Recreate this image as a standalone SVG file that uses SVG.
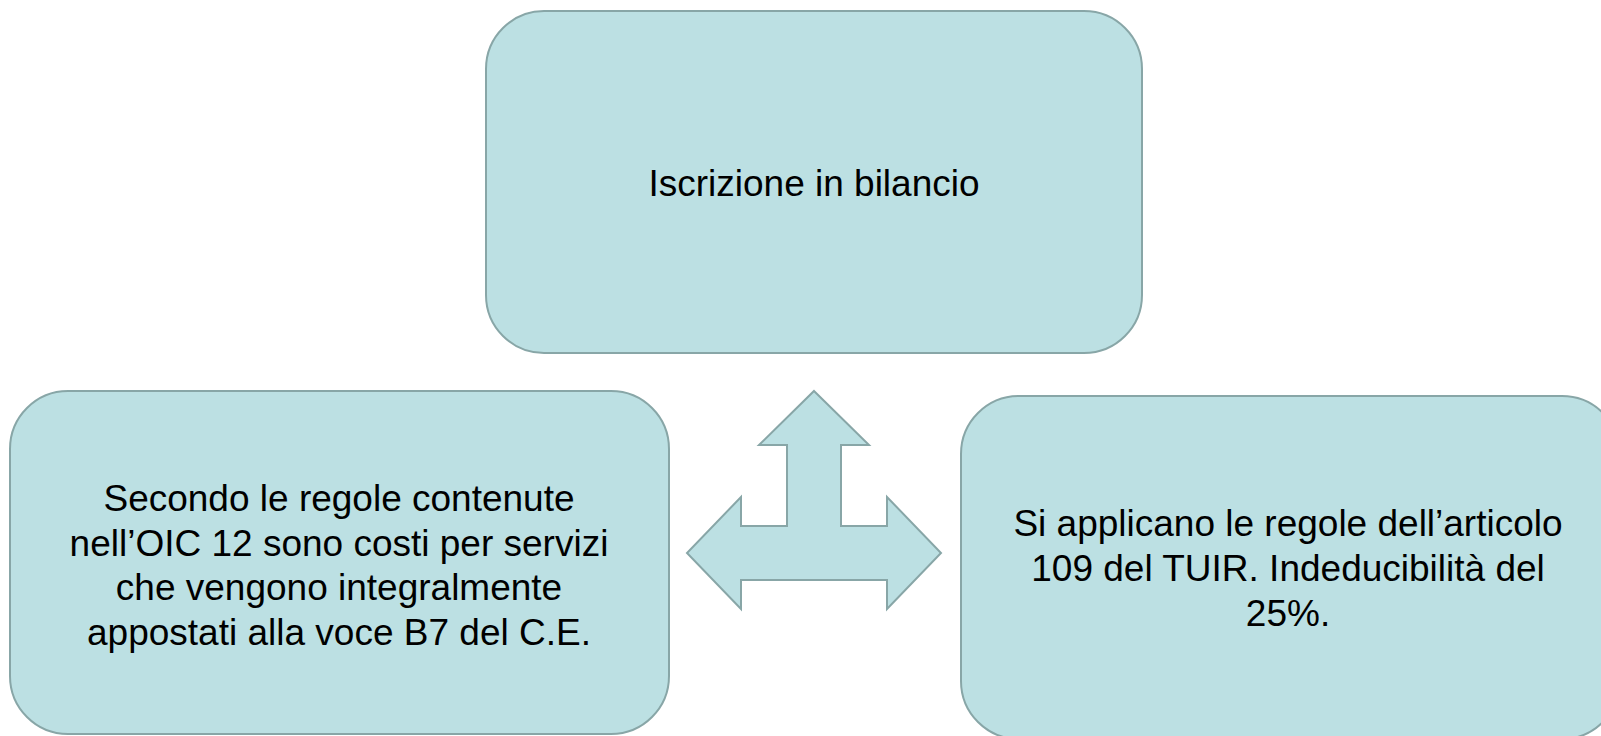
<svg xmlns="http://www.w3.org/2000/svg" width="1601" height="736" viewBox="0 0 1601 736">
<style>
.box{fill:#BCE0E3;stroke:#88A6A7;stroke-width:2}
.t{font-family:"Liberation Sans",Arial,sans-serif;font-size:37px;fill:#000;text-anchor:middle}
</style>
<rect width="1601" height="736" fill="#fff"/>
<g id="node-top">
<rect class="box" x="486" y="11" width="656" height="342" rx="58" ry="58"/>
<text class="t" x="814" y="196">Iscrizione in bilancio</text>
</g>
<g id="node-left">
<rect class="box" x="10" y="391" width="659" height="343" rx="58" ry="58"/>
<text class="t"><tspan x="339" y="511">Secondo le regole contenute</tspan><tspan x="339" y="556">nell’OIC 12 sono costi per servizi</tspan><tspan x="339" y="600">che vengono integralmente</tspan><tspan x="339" y="645">appostati alla voce B7 del C.E.</tspan></text>
</g>
<g id="node-right">
<rect class="box" x="961" y="396" width="659" height="343" rx="58" ry="58"/>
<text class="t"><tspan x="1288" y="536">Si applicano le regole dell’articolo</tspan><tspan x="1288" y="581">109 del TUIR. Indeducibilità del</tspan><tspan x="1288" y="626">25%.</tspan></text>
</g>
<g id="connectors">
<polygon class="box" points="814,391 869,445 841,445 841,526 887,526 887,497 941,553 887,609 887,580 741,580 741,609 687,553 741,497 741,526 787,526 787,445 759,445"/>
</g>
</svg>
